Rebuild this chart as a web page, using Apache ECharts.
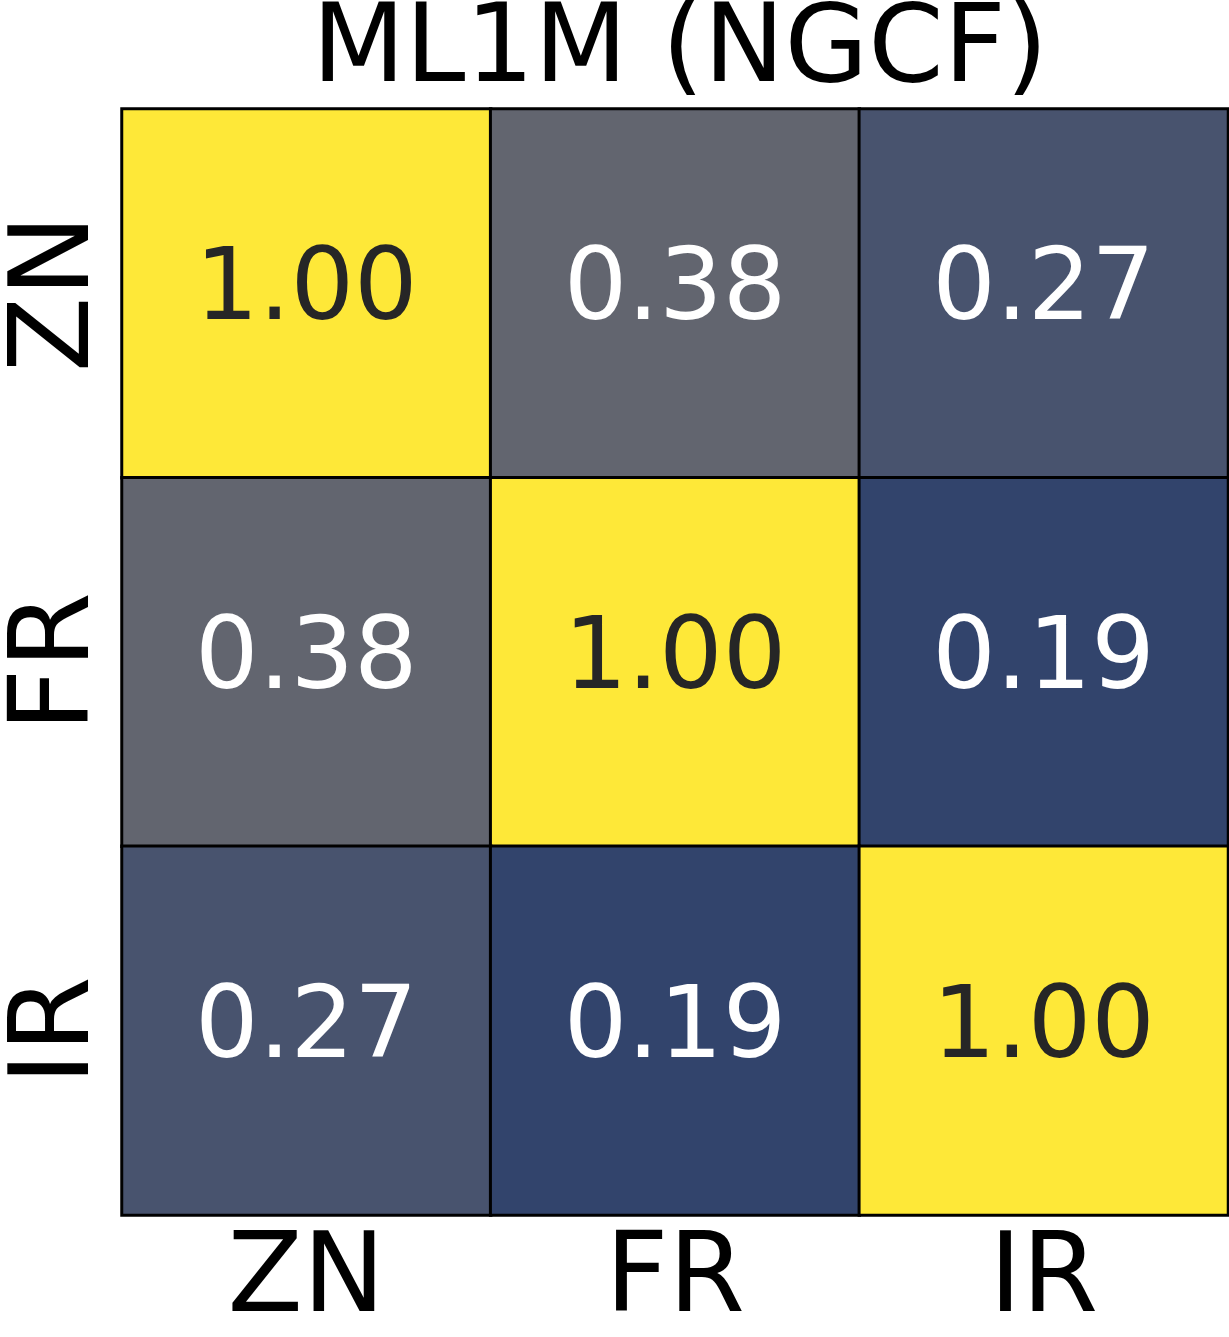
<!DOCTYPE html>
<html>
<head>
<meta charset="utf-8">
<script src="https://cdn.jsdelivr.net/npm/echarts@6/dist/echarts.min.js"></script>
<style>html,body{margin:0;padding:0;background:#fff;}#c{width:1229px;height:1337px;}</style>
</head>
<body>
<div id="c"></div>
<script>
const title = "ML1M (NGCF)";
const xCategories = ["ZN", "FR", "IR"];
const yCategories = ["ZN", "FR", "IR"];
const rowZN = [1.00, 0.38, 0.27];
const rowFR = [0.38, 1.00, 0.19];
const rowIR = [0.27, 0.19, 1.00];
const matrix = [rowZN, rowFR, rowIR];

// cividis-like colour stops, evenly spaced 0..1
const cividis = ["#00224E", "#1B366F", "#35456C", "#50596F", "#67686F", "#7D7C78",
                 "#989274", "#B3A86C", "#D0C163", "#EDD94C", "#FEE838"];

const data = [];
matrix.forEach((row, yi) => row.forEach((v, xi) => {
  data.push({
    value: [xi, yi, v],
    label: { color: v > 0.6 ? "#262626" : "#ffffff" }
  });
}));

const FONT = "DejaVu Sans";
const chart = echarts.init(document.getElementById("c"), null, { renderer: "canvas" });
chart.setOption({
  animation: false,
  backgroundColor: "#ffffff",
  title: {
    text: title, left: 675, textAlign: "center", top: -6,
    textStyle: { fontFamily: FONT, fontSize: 108, fontWeight: "normal", color: "#000" }
  },
  grid: { left: 122, top: 109, width: 1106, height: 1106, containLabel: false, outerBoundsMode: "none" },
  xAxis: {
    type: "category", data: xCategories, position: "bottom",
    axisLine: { show: false }, axisTick: { show: false }, splitLine: { show: false },
    axisLabel: { fontFamily: FONT, fontSize: 110, color: "#000", margin: 12 }
  },
  yAxis: {
    type: "category", data: yCategories, inverse: true,
    axisLine: { show: false }, axisTick: { show: false }, splitLine: { show: false },
    axisLabel: { fontFamily: FONT, fontSize: 110, color: "#000", rotate: 90, margin: 8 }
  },
  visualMap: {
    show: false, type: "continuous", min: 0, max: 1, dimension: 2,
    inRange: { color: cividis }
  },
  series: [{
    type: "heatmap",
    data: data,
    itemStyle: { borderColor: "#000", borderWidth: 3 },
    label: {
      show: true, fontFamily: FONT, fontSize: 100,
      formatter: p => p.value[2].toFixed(2)
    },
    emphasis: { disabled: true }
  }]
});
</script>
</body>
</html>
